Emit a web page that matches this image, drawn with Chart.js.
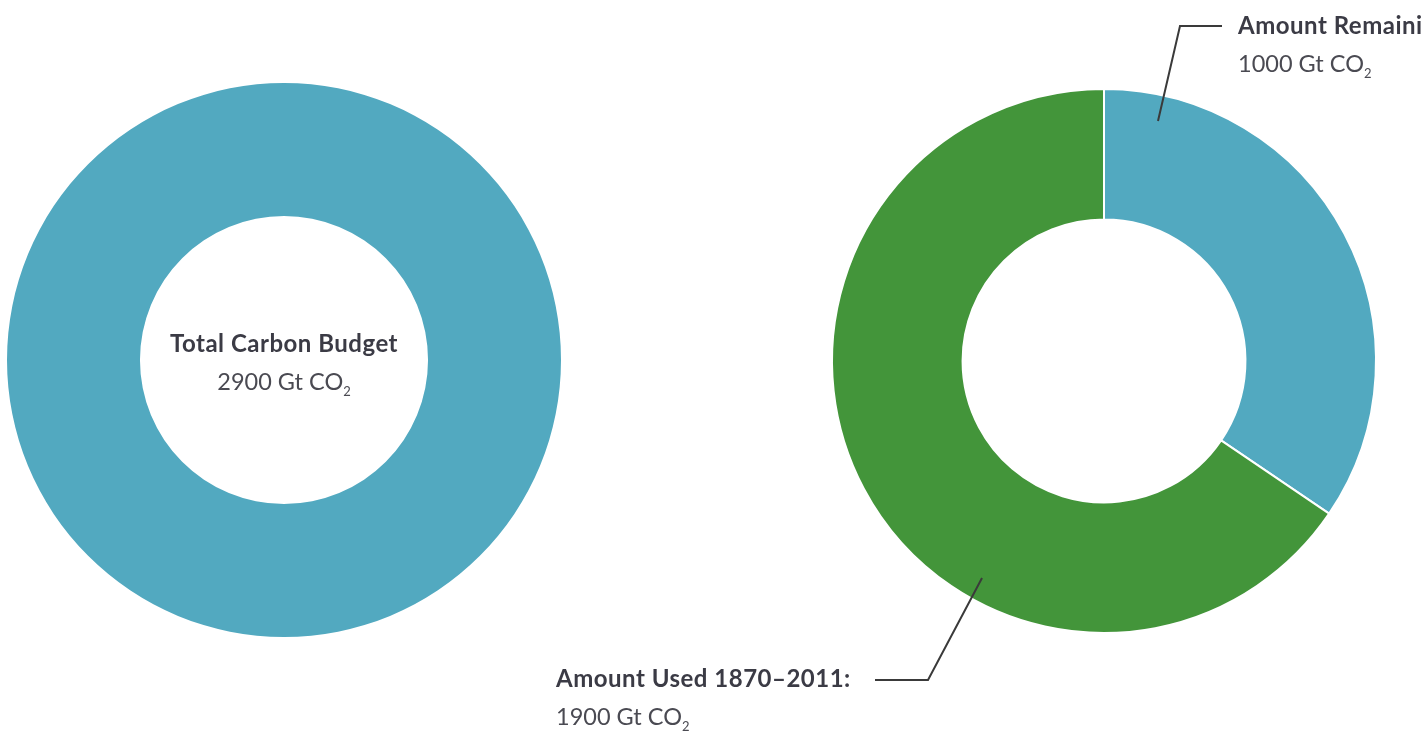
<!DOCTYPE html>
<html>
<head>
<meta charset="utf-8">
<script src="https://cdn.jsdelivr.net/npm/chart.js@4/dist/chart.umd.min.js"></script>
<style>
  body { margin: 0; background: #fff; }
  #page { position: relative; width: 1422px; height: 735px; overflow: hidden; font-family: Lato, "Open Sans", sans-serif; color: #4a4a52; }
  canvas { position: absolute; }
  .lbl { position: absolute; white-space: nowrap; font-size: 23.5px; line-height: 38px; }
  .lbl b { color: #3b3b45; font-weight: bold; font-size: 24px; letter-spacing: 0.5px; }
  .lbl sub { font-size: 13px; vertical-align: -6px; line-height: 0; }
</style>
</head>
<body>
<div id="page">
  <canvas id="total" style="left:7px;top:83px;width:554px;height:554px" width="554" height="554"></canvas>
  <canvas id="split" style="left:600px;top:0;width:822px;height:735px" width="822" height="735"></canvas>

  <div class="lbl" style="left:84px;width:400px;top:324px;text-align:center">
    <b>Total Carbon Budget</b><br>2900 Gt CO<sub>2</sub>
  </div>
  <div class="lbl" style="left:1238px;top:6px">
    <b>Amount Remaining:</b><br>1000 Gt CO<sub>2</sub>
  </div>
  <div class="lbl" style="left:556px;top:659px">
    <b>Amount Used 1870–2011:</b><br>1900 Gt CO<sub>2</sub>
  </div>
</div>
<script>
  // values in Gt CO2
  const totalLabels = ['Total Carbon Budget'];
  const totalValues = [2900];
  const splitLabels = ['Amount Remaining', 'Amount Used 1870–2011'];
  const splitValues = [1000, 1900];

  const blue = '#52a9c0';
  const green = '#43953a';

  const baseOptions = {
    responsive: false,
    animation: false,
    cutout: '52%',
    plugins: { legend: { display: false }, tooltip: { enabled: false } }
  };

  new Chart(document.getElementById('total'), {
    type: 'doughnut',
    data: {
      labels: totalLabels,
      datasets: [{ data: totalValues, backgroundColor: [blue], borderWidth: 0 }]
    },
    options: baseOptions
  });

  // leader lines for the callouts, relative to the doughnut centre
  const leaders = {
    id: 'leaders',
    afterDraw(chart) {
      const arc = chart.getDatasetMeta(0).data[0];
      const cx = arc.x, cy = arc.y;
      const ctx = chart.ctx;
      ctx.save();
      ctx.strokeStyle = '#3a3a3a';
      ctx.lineWidth = 2;
      ctx.beginPath();
      ctx.moveTo(cx + 54, cy - 240);
      ctx.lineTo(cx + 76, cy - 335);
      ctx.lineTo(cx + 118, cy - 335);
      ctx.moveTo(cx - 122, cy + 217);
      ctx.lineTo(cx - 176, cy + 319);
      ctx.lineTo(cx - 229, cy + 319);
      ctx.stroke();
      ctx.restore();
    }
  };

  new Chart(document.getElementById('split'), {
    type: 'doughnut',
    data: {
      labels: splitLabels,
      datasets: [{ data: splitValues, backgroundColor: [blue, green], borderColor: '#fff', borderWidth: 2 }]
    },
    options: Object.assign({}, baseOptions, {
      layout: { padding: { left: 231, right: 45, top: 88, bottom: 101 } }
    }),
    plugins: [leaders]
  });
</script>
</body>
</html>
